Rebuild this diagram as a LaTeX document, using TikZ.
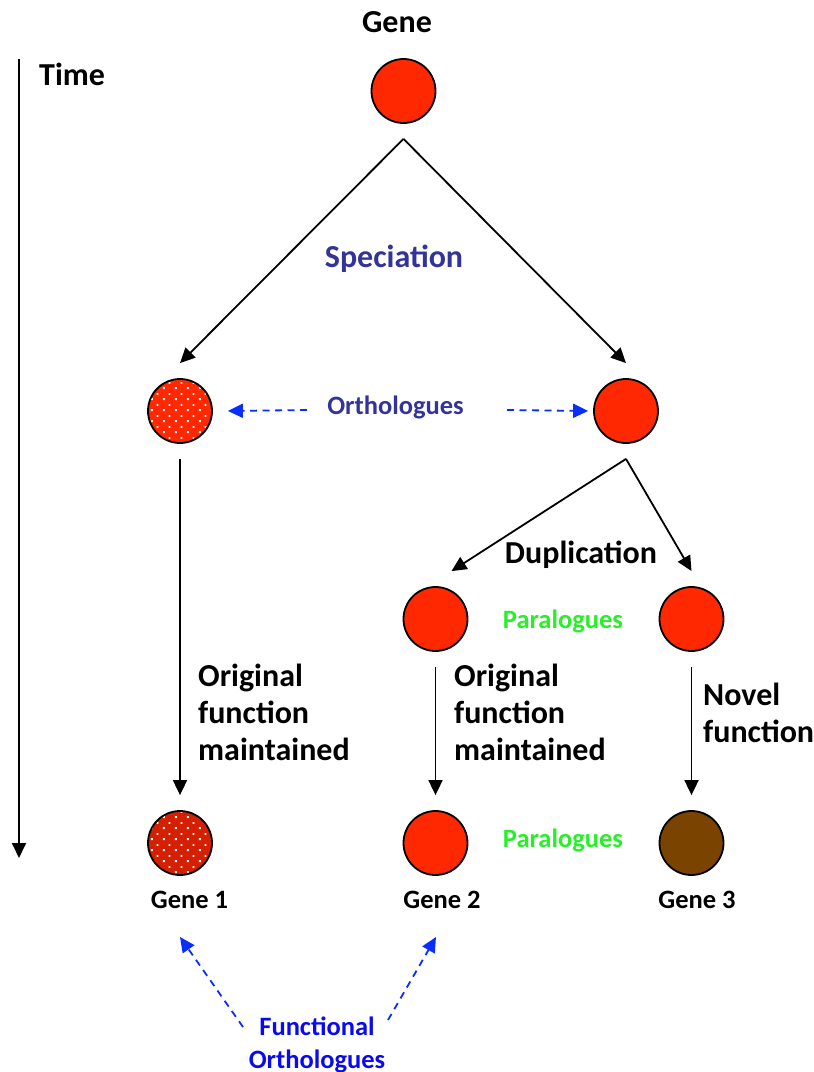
\documentclass[tikz,border=0pt]{standalone}
\usepackage{fontspec}
\setmainfont{Carlito}
\usetikzlibrary{arrows.meta,positioning,patterns.meta}

\definecolor{genered}{RGB}{255,40,0}
\definecolor{genedark}{RGB}{212,32,0}
\definecolor{genebrown}{RGB}{122,67,0}
\definecolor{specblue}{RGB}{51,51,153}
\definecolor{dashblue}{RGB}{10,45,255}
\definecolor{funcblue}{RGB}{10,10,240}
\definecolor{paragreen}{RGB}{40,240,40}

% white dots on the diverged genes
\tikzdeclarepattern{
  name=genedots,
  type=uncolored,
  bounding box={(0pt,0pt) and (11.5pt,11pt)},
  tile size={(11.5pt,11pt)},
  code={
    \fill (1pt,1pt) rectangle (3pt,3pt);
    \fill (6.75pt,6.5pt) rectangle (8.75pt,8.5pt);
  }
}

\begin{document}
\begin{tikzpicture}[x=1pt, y=-1pt,
    % Node styles
    gene/.style={circle, draw=black, line width=1.8pt, fill=genered,
                 minimum size=64pt, inner sep=0pt},
    dotgene/.style={circle, draw=black, line width=1.8pt, minimum size=64pt,
                    inner sep=0pt, preaction={fill=#1},
                    pattern=genedots, pattern color=white},
    bigtext/.style={font=\bfseries\fontsize{32}{37}\selectfont, inner sep=0pt},
    smalltext/.style={font=\bfseries\fontsize{26.5}{33}\selectfont, inner sep=0pt},
    arrow/.style={line width=1.8pt, black, -{Triangle[length=15pt,width=14pt]}},
    dasharrow/.style={line width=1.8pt, dashblue, dash pattern=on 7pt off 5.5pt,
                      -{Triangle[length=15pt,width=14pt]}}
]
\useasboundingbox (0,0) rectangle (814,1072);

% 1. Ancestral gene
\node[bigtext, anchor=base] (gene title) at (397,32) {Gene};
\node[gene] (root) at (403.5,91) {};

% 2. Time axis
\coordinate (time start) at (19,59);
\coordinate (time end) at (19,858);
\draw[arrow] (time start) -- (time end);
\node[bigtext, anchor=base west] (time) at (39,85) {Time};

% 3. Speciation
\node[dotgene=genered] (ortho left) at (180,411) {};
\node[gene] (ortho right) at (626,411) {};
\coordinate (spec split) at ([yshift=-15pt]root.south);
\draw[arrow] (spec split) -- ([yshift=15pt]ortho left.north);
\draw[arrow] (spec split) -- ([yshift=15pt]ortho right.north);
\node[bigtext, text=specblue, anchor=base] (speciation) at (394,267) {Speciation};

% Orthologues
\node[smalltext, text=specblue, anchor=base] (orthologues) at (395.5,414) {Orthologues};
\coordinate (ortho l) at (307,410);
\coordinate (ortho r) at (507,410);
\draw[dasharrow] (ortho l) -- ([xshift=15pt]ortho left.east);
\draw[dasharrow] (ortho r) -- ([xshift=-5pt]ortho right.west);

% 4. Duplication
\node[gene] (para one) at (435.5,619) {};
\node[gene] (para two) at (691.5,619) {};
\coordinate (dup split) at ([yshift=-15pt]ortho right.south);
\draw[arrow] (dup split) -- ([xshift=16pt,yshift=15pt]para one.north);
\draw[arrow] (dup split) -- ([yshift=15pt]para two.north);
\node[bigtext, anchor=base] (duplication) at (581,563) {Duplication};
\node[smalltext, text=paragreen, anchor=base] (para top) at (563,628) {Paralogues};

% 5. Present-day genes
\node[dotgene=genedark] (gene one) at (180,843) {};
\node[gene] (gene two) at (435.5,843) {};
\node[gene, fill=genebrown] (gene three) at (691.5,843) {};
\node[smalltext, text=paragreen, anchor=base] (para bottom) at (563,847) {Paralogues};

\draw[arrow] ([yshift=-15pt]ortho left.south) -- ([yshift=15pt]gene one.north);
\draw[arrow] ([yshift=-15pt]para one.south) -- ([yshift=15pt]gene two.north);
\draw[arrow] ([yshift=-15pt]para two.south) -- ([yshift=15pt]gene three.north);

\node[bigtext, align=left, anchor=base west] (keep left) at (198,760) {
    Original\\function\\maintained};
\node[bigtext, align=left, anchor=base west] (keep mid) at (454,760) {
    Original\\function\\maintained};
\node[bigtext, align=left, anchor=base west] (novel) at (703,742) {
    Novel\\function};

\node[smalltext, anchor=base] (gene one label) at (189.5,908) {Gene 1};
\node[smalltext, anchor=base] (gene two label) at (442,908) {Gene 2};
\node[smalltext, anchor=base] (gene three label) at (697,908) {Gene 3};

% 6. Functional orthologues
\node[smalltext, text=funcblue, align=center, anchor=base] (functional) at (317,1068) {
    Functional\\Orthologues};
\coordinate (func l) at (243,1027);
\coordinate (func r) at (388,1020);
\draw[dasharrow] (func l) -- (180,937);
\draw[dasharrow] (func r) -- (436,937);

\end{tikzpicture}
\end{document}
